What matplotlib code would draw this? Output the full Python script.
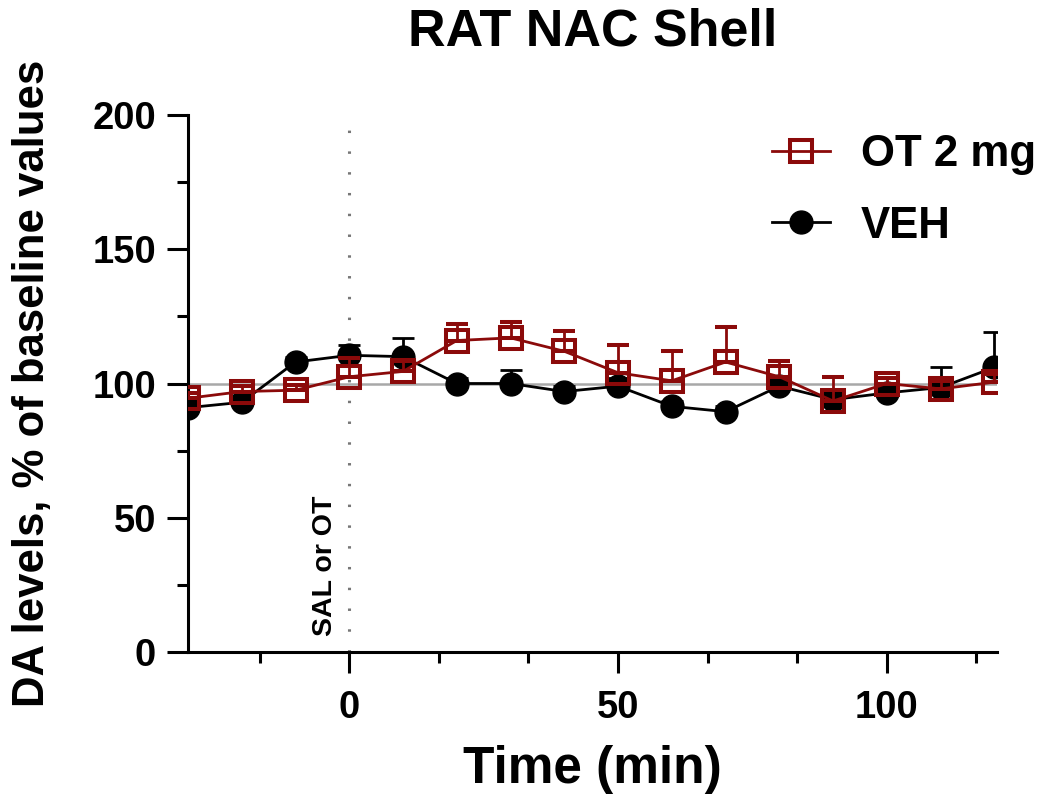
import matplotlib
matplotlib.use("Agg")
import matplotlib.pyplot as plt
from matplotlib.ticker import MultipleLocator, FixedLocator
import numpy as np

plt.rcParams['font.family'] = ['Liberation Sans', 'DejaVu Sans']
plt.rcParams['font.weight'] = 'bold'

time_min = [-30, -20, -10, 0, 10, 20, 30, 40, 50, 60, 70, 80, 90, 100, 110, 120]
veh_mean = [91, 93, 108, 110.5, 110, 100, 100, 97, 99, 91.5, 89.5, 99, 94, 96.5, 98.5, 106]
veh_sem = [1.5, 2, 2, 4, 7, 2, 5, 2, 3, 2, 2, 2, 3, 2, 7.5, 13]
ot_mean = [94.5, 97, 97.5, 102.5, 104.5, 116, 117, 112, 104, 101, 108, 102.5, 93.5, 100, 98, 100.5]
ot_sem = [2, 2, 2, 7, 4, 6, 6, 7.5, 10.5, 11, 13, 6, 9, 2, 3, 3]

title = "RAT NAC Shell"
xlabel = "Time (min)"
ylabel = "DA levels, % of baseline values"
inject_label = "SAL or OT"
label_ot = "OT 2 mg"
label_veh = "VEH"

red = '#8B0A0A'

fig = plt.figure(figsize=(10.5, 8.09), dpi=100)
ax = fig.add_axes([188/1050, 1 - 652/809, (997-188)/1050, (652-115)/809])

ax.axhline(100, color='#a8a8a8', lw=1.8, zorder=1)
ax.axvline(0, color='#777777', lw=2.2, linestyle=(0, (0.8, 6)), zorder=1)

zeros = np.zeros(len(time_min))
h_veh = ax.errorbar(time_min, veh_mean, yerr=[zeros, veh_sem], color='black', lw=2.0,
                    marker='o', markersize=16.5, mfc='black', mec='black',
                    elinewidth=2.0, capsize=8, capthick=2.0, zorder=3, label=label_veh)
h_ot = ax.errorbar(time_min, ot_mean, yerr=[zeros, ot_sem], color=red, lw=2.0,
                   marker='s', markersize=16, mfc='none', mec=red, mew=2.9,
                   elinewidth=2.0, capsize=8, capthick=2.0, zorder=4, label=label_ot)

ax.set_xlim(-30, 120.5)
ax.set_ylim(0, 200)
ax.spines['top'].set_visible(False)
ax.spines['right'].set_visible(False)
for s in ['left', 'bottom']:
    ax.spines[s].set_linewidth(2.2)

ax.xaxis.set_major_locator(FixedLocator([0, 50, 100]))
ax.xaxis.set_minor_locator(FixedLocator([-50/3, 50/3, 100/3, 200/3, 250/3, 350/3]))
ax.yaxis.set_major_locator(MultipleLocator(50))
ax.yaxis.set_minor_locator(MultipleLocator(25))
ax.tick_params(which='major', length=15, width=2.2, labelsize=27.5, pad=8)
ax.tick_params(which='minor', length=8, width=2.2)
ax.tick_params(axis='x', which='major', pad=12)
for lab in ax.get_xticklabels() + ax.get_yticklabels():
    lab.set_fontweight('bold')

ax.set_xlabel(xlabel, fontsize=37, fontweight='bold', labelpad=14)
ax.set_ylabel(ylabel, fontsize=31.5, fontweight='bold', labelpad=28)
ax.set_title(title, fontsize=37.5, fontweight='bold', pad=50)

ax.text(-4.5, 6, inject_label, rotation=90, fontsize=20.5, fontweight='bold',
        ha='center', va='bottom')

leg = ax.legend(handles=[h_ot[0], h_veh[0]], labels=[label_ot, label_veh], frameon=False,
                loc='upper left', bbox_to_anchor=(772/1050, 1 - 134/809),
                bbox_transform=fig.transFigure, fontsize=31.5, handlelength=1.33,
                handletextpad=0.7, labelspacing=0.7, borderaxespad=0, borderpad=0)
for t in leg.get_texts():
    t.set_fontweight('bold')

fig.savefig('out.png', dpi=100)
